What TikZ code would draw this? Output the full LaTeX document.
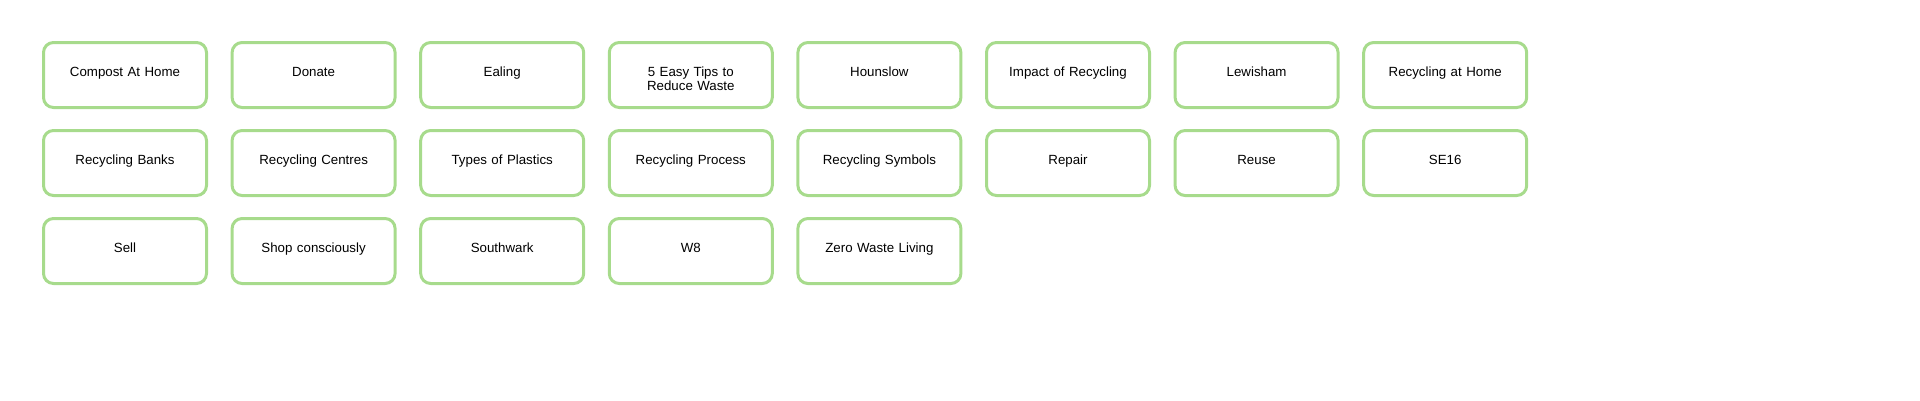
\documentclass[tikz,border=0pt]{standalone}
\usepackage{fontspec}
\setmainfont{Liberation Sans}
\definecolor{bgreen}{HTML}{A7DB8C}
\begin{document}
\begin{tikzpicture}[x=1pt,y=-1pt,
  tile/.style={draw=bgreen,line width=3pt,rounded corners=10pt,minimum width=163pt,minimum height=65pt,align=center,font=\fontsize{13.3}{14.5}\selectfont,text width=150pt,text depth=0.45em,text height=0.65em}]
\useasboundingbox (0,0) rectangle (1920,400);
\def\px#1{125+188.6*#1}
\node[tile] (a1) at ({\px0},75) {Compost At Home};
\node[tile] (a2) at ({\px1},75) {Donate};
\node[tile] (a3) at ({\px2},75) {Ealing};
\node[tile] (a4) at ({\px3},75) {5 Easy Tips to\\Reduce Waste};
\node[tile] (a5) at ({\px4},75) {Hounslow};
\node[tile] (a6) at ({\px5},75) {Impact of Recycling};
\node[tile] (a7) at ({\px6},75) {Lewisham};
\node[tile] (a8) at ({\px7},75) {Recycling at Home};
\node[tile] (b1) at ({\px0},163) {Recycling Banks};
\node[tile] (b2) at ({\px1},163) {Recycling Centres};
\node[tile] (b3) at ({\px2},163) {Types of Plastics};
\node[tile] (b4) at ({\px3},163) {Recycling Process};
\node[tile] (b5) at ({\px4},163) {Recycling Symbols};
\node[tile] (b6) at ({\px5},163) {Repair};
\node[tile] (b7) at ({\px6},163) {Reuse};
\node[tile] (b8) at ({\px7},163) {SE16};
\node[tile] (c1) at ({\px0},251) {Sell};
\node[tile] (c2) at ({\px1},251) {Shop consciously};
\node[tile] (c3) at ({\px2},251) {Southwark};
\node[tile] (c4) at ({\px3},251) {W8};
\node[tile] (c5) at ({\px4},251) {Zero Waste Living};
\end{tikzpicture}
\end{document}
